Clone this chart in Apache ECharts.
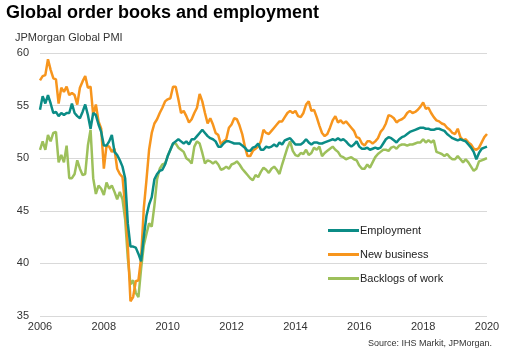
<!DOCTYPE html>
<html>
<head>
<meta charset="utf-8">
<script src="https://cdn.jsdelivr.net/npm/echarts@6/dist/echarts.min.js"></script>
<style>
html,body{margin:0;padding:0;background:#fff;}
#chart{width:505px;height:355px;}
</style>
</head>
<body>
<div id="chart"></div>
<script>
// Monthly, Jan 2006 .. Jan 2020
const startYear = 2006;
const monthCount = 169;
const yTicks = [35, 40, 45, 50, 55, 60];
const seriesNames = ['Employment', 'New business', 'Backlogs of work'];

const employment = [
54.6,55.9,55.2,56.0,55.2,54.3,54.4,54.0,54.3,54.1,54.3,54.3,
55.2,54.3,54.0,53.8,54.4,55.1,54.1,52.8,54.3,54.1,53.2,52.5,
51.2,51.2,51.6,52.2,50.6,50.3,49.8,49.2,48.1,43.8,41.6,41.6,
41.5,40.9,40.2,42.5,44.5,45.6,46.3,48.0,48.5,48.8,48.9,49.4,
50.2,50.8,51.4,51.6,51.8,51.6,51.4,51.6,51.3,51.8,51.8,52.1,
52.4,52.7,52.4,52.1,51.9,51.8,51.6,51.1,51.1,51.4,51.6,51.6,
51.5,51.4,51.4,51.4,51.2,51.0,50.7,50.7,51.0,51.1,51.4,50.8,
50.8,51.1,51.0,51.1,51.3,51.1,51.5,51.3,51.7,51.8,51.9,51.6,
51.3,51.3,51.3,51.5,51.8,51.5,51.3,51.5,51.5,51.4,51.4,51.5,
51.6,51.7,51.8,51.7,51.9,51.7,51.8,51.6,51.3,51.1,51.3,51.6,
51.1,50.9,50.9,51.0,50.8,50.9,51.0,50.9,51.0,51.4,51.8,52.0,
51.9,51.7,51.5,51.8,52.0,52.1,52.3,52.5,52.6,52.7,52.8,52.9,
52.9,52.8,52.8,52.7,52.7,52.8,52.8,52.7,52.6,52.3,52.1,51.9,
51.8,51.7,51.8,51.7,51.6,51.3,51.0,50.6,49.9,50.5,50.9,51.0,
51.1
];

const newBusiness = [
57.4,57.8,57.9,59.4,58.4,57.6,57.5,55.2,56.7,56.3,56.8,56.0,
56.2,56.0,55.1,56.7,57.3,57.8,56.7,56.8,54.1,55.1,53.5,52.8,
49.0,51.2,51.1,50.6,50.9,49.0,48.5,48.2,45.5,41.7,36.4,36.8,
38.3,38.4,40.5,45.2,47.9,50.8,52.4,53.3,53.7,54.3,54.8,55.4,
55.6,55.7,56.8,56.8,55.6,54.3,54.5,54.0,53.4,53.7,54.3,54.8,
56.1,55.4,54.3,53.3,53.8,53.2,52.4,52.2,51.3,51.6,51.8,52.9,
53.2,53.8,53.7,53.1,52.3,51.1,50.2,50.2,50.7,50.9,51.1,51.6,
52.7,52.4,52.3,52.6,52.9,53.2,53.5,53.5,53.9,54.3,54.5,54.3,
54.5,54.0,53.9,54.3,55.1,55.4,54.5,54.6,53.9,53.1,52.4,52.1,
52.3,52.9,53.6,54.0,53.4,53.6,53.3,53.5,53.2,52.9,52.6,52.0,
51.9,51.4,51.2,51.6,51.6,51.4,51.6,51.9,52.5,52.8,53.3,54.1,
54.0,53.8,53.4,53.6,53.7,53.9,54.3,54.5,54.3,54.4,54.6,54.9,
55.3,54.7,54.8,54.3,53.9,53.6,53.5,53.3,53.2,52.9,52.7,52.4,
52.3,52.8,52.0,51.7,51.8,51.5,51.3,50.9,50.8,51.0,51.5,52.0,
52.3
];

const backlogs = [
50.8,51.6,50.8,52.2,51.6,52.4,52.5,49.6,50.3,49.6,51.2,48.1,
48.1,48.5,49.8,49.0,48.4,48.5,51.2,52.7,48.1,46.6,47.4,47.1,
46.5,47.7,47.1,47.4,46.8,46.1,46.8,46.1,44.2,40.5,38.0,38.4,
37.2,36.8,39.5,41.7,42.8,43.8,43.5,45.5,48.0,49.0,49.4,49.5,
50.2,50.8,51.4,51.4,51.0,50.8,50.6,50.0,49.8,49.5,51.1,51.6,
51.4,50.5,49.5,49.8,49.7,49.5,49.7,49.4,48.9,49.0,49.2,49.0,
49.4,49.5,49.7,49.4,49.0,48.7,48.4,48.1,47.9,48.4,48.2,48.7,
49.1,48.9,48.6,49.0,49.2,48.9,48.5,49.4,50.2,51.0,51.6,50.7,
50.3,50.2,50.5,50.4,50.8,50.3,50.5,51.0,50.8,51.1,50.2,50.5,
50.7,50.9,51.1,50.8,50.6,50.2,50.1,49.9,50.0,50.1,49.9,49.8,
49.3,49.0,49.0,49.4,49.1,49.6,50.1,50.4,50.6,50.8,50.8,50.7,
51.0,51.1,50.9,51.2,51.3,51.3,51.2,51.3,51.3,51.4,51.5,51.5,
51.8,51.5,51.7,51.5,51.7,50.6,50.5,50.4,50.2,50.4,50.1,49.9,
49.9,50.2,49.9,49.6,49.9,49.6,49.2,48.8,49.0,49.7,49.8,49.9,
50.0
];

const categories = [];
for (let k = 0; k < monthCount; k++) {
  const y = startYear + Math.floor(k / 12);
  const m = (k % 12) + 1;
  categories.push(y + '-' + (m < 10 ? '0' + m : m));
}

const colors = ['#0b8c86', '#f7951d', '#9dc05b'];
const FONT = 'Liberation Sans, Arial, sans-serif';

const chart = echarts.init(document.getElementById('chart'), null, {renderer: 'canvas'});
chart.setOption({
  animation: false,
  backgroundColor: '#ffffff',
  color: colors,
  title: [
    {text: 'Global order books and employment', left: 6, top: 4, padding: 0,
     textStyle: {fontFamily: FONT, fontSize: 18, fontWeight: 'bold', color: '#000'}},
    {text: 'JPMorgan Global PMI', left: 15, top: 32, padding: 0,
     textStyle: {fontFamily: FONT, fontSize: 11, fontWeight: 'normal', color: '#333'}},
    {text: 'Source: IHS Markit, JPMorgan.', right: 13, top: 339, padding: 0,
     textStyle: {fontFamily: FONT, fontSize: 9, fontWeight: 'normal', color: '#333'}}
  ],
  legend: {
    orient: 'vertical',
    left: 328, top: 225, padding: 0,
    itemWidth: 31, itemHeight: 3, itemGap: 13,
    icon: 'rect',
    textStyle: {fontFamily: FONT, fontSize: 11, color: '#222', padding: [0,0,0,-4]},
    data: seriesNames
  },
  grid: {left: 40, right: 18, top: 53, bottom: 39, containLabel: false},
  xAxis: {
    type: 'category',
    data: categories,
    boundaryGap: false,
    axisLine: {show: false},
    axisTick: {show: false},
    axisLabel: {
      interval: function (idx) { return idx % 24 === 0; },
      formatter: function (v) { return v.slice(0, 4); },
      fontFamily: FONT, fontSize: 11, color: '#333', margin: 5
    },
    splitLine: {show: false}
  },
  yAxis: {
    type: 'value',
    min: yTicks[0], max: yTicks[yTicks.length - 1], interval: 5,
    axisLine: {show: false},
    axisTick: {show: false},
    axisLabel: {fontFamily: FONT, fontSize: 11, color: '#333', margin: 11},
    splitLine: {lineStyle: {color: '#d9d9d9', width: 1}}
  },
  series: [
    {name: seriesNames[0], type: 'line', data: employment, showSymbol: false, symbol: 'none',
     lineStyle: {width: 2.5, color: colors[0]}, z: 4},
    {name: seriesNames[1], type: 'line', data: newBusiness, showSymbol: false, symbol: 'none',
     lineStyle: {width: 2.5, color: colors[1]}, z: 3},
    {name: seriesNames[2], type: 'line', data: backlogs, showSymbol: false, symbol: 'none',
     lineStyle: {width: 2.5, color: colors[2]}, z: 2}
  ]
});
</script>
</body>
</html>
